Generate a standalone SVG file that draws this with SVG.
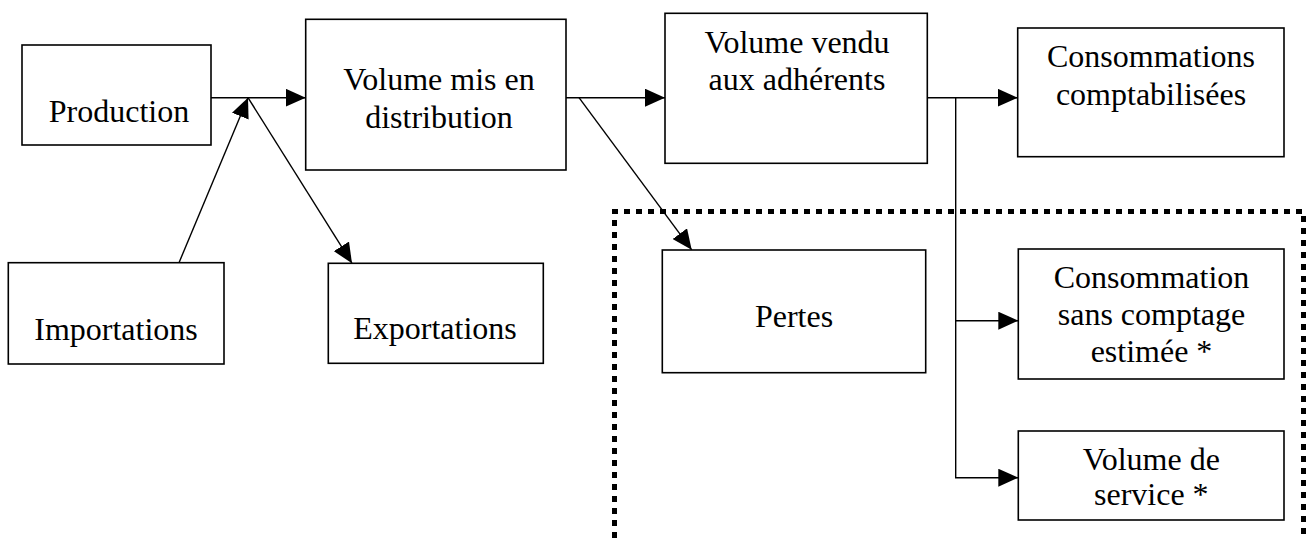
<svg xmlns="http://www.w3.org/2000/svg" width="1308" height="538" viewBox="0 0 1308 538">
<style>
.box{fill:#fff;stroke:#000;stroke-width:1.6}
.t{font-family:"Liberation Serif","Times New Roman",serif;font-size:32px;fill:#000;text-anchor:middle}
.c{fill:none;stroke:#000;stroke-width:1.4}
.dot{fill:none;stroke:#000;stroke-width:5;stroke-dasharray:6 6}
</style>
<defs>
<marker id="ah" markerUnits="userSpaceOnUse" markerWidth="20" markerHeight="18" refX="20" refY="9" orient="auto">
<path d="M0,0 L20,9 L0,18 z" fill="#000"/>
</marker>
</defs>
<rect width="1308" height="538" fill="#fff"/>
<g id="region">
<path class="dot" d="M614.5,538 L614.5,211.5 L1303.5,211.5 L1303.5,538"/>
</g>
<g id="connectors">
<path class="c" d="M211,97.7 L305.7,97.7" marker-end="url(#ah)"/>
<path class="c" d="M179,262.7 L248,97.7" marker-end="url(#ah)"/>
<path class="c" d="M248,97.7 L352,263.3" marker-end="url(#ah)"/>
<path class="c" d="M566,97.7 L665,97.7" marker-end="url(#ah)"/>
<path class="c" d="M579,97.7 L691.7,249.8" marker-end="url(#ah)"/>
<path class="c" d="M927,97.7 L1017.7,97.7" marker-end="url(#ah)"/>
<path class="c" d="M955.7,97.7 L955.7,477.7 L1018.3,477.7" marker-end="url(#ah)"/>
<path class="c" d="M955.7,320.7 L1018.3,320.7" marker-end="url(#ah)"/>
</g>
<g id="production">
<rect class="box" x="22" y="45" width="189" height="100"/>
<text class="t" x="119" y="122">Production</text>
</g>
<g id="importations">
<rect class="box" x="8.3" y="262.7" width="215.7" height="101.3"/>
<text class="t" x="116" y="340">Importations</text>
</g>
<g id="exportations">
<rect class="box" x="328.3" y="263.3" width="215" height="100"/>
<text class="t" x="435" y="339.3">Exportations</text>
</g>
<g id="volume-mis">
<rect class="box" x="305.7" y="19.3" width="260.3" height="150.7"/>
<text class="t" x="439" y="90">Volume mis en</text>
<text class="t" x="439" y="127.7">distribution</text>
</g>
<g id="volume-vendu">
<rect class="box" x="665" y="13.3" width="262.3" height="150"/>
<text class="t" x="797" y="53.3">Volume vendu</text>
<text class="t" x="797" y="90">aux adhérents</text>
</g>
<g id="consommations">
<rect class="box" x="1017.7" y="28" width="266.3" height="128.7"/>
<text class="t" x="1151" y="67.3">Consommations</text>
<text class="t" x="1151" y="105">comptabilisées</text>
</g>
<g id="pertes">
<rect class="box" x="662.3" y="250" width="263.4" height="122.7"/>
<text class="t" x="794" y="326.7">Pertes</text>
</g>
<g id="sans-comptage">
<rect class="box" x="1018.3" y="249" width="265.7" height="130"/>
<text class="t" x="1151.5" y="288.3">Consommation</text>
<text class="t" x="1151.5" y="325">sans comptage</text>
<text class="t" x="1151.5" y="361.7">estimée *</text>
</g>
<g id="volume-service">
<rect class="box" x="1018.3" y="431" width="265.7" height="89"/>
<text class="t" x="1151.3" y="470">Volume de</text>
<text class="t" x="1151.3" y="505">service *</text>
</g>
</svg>
